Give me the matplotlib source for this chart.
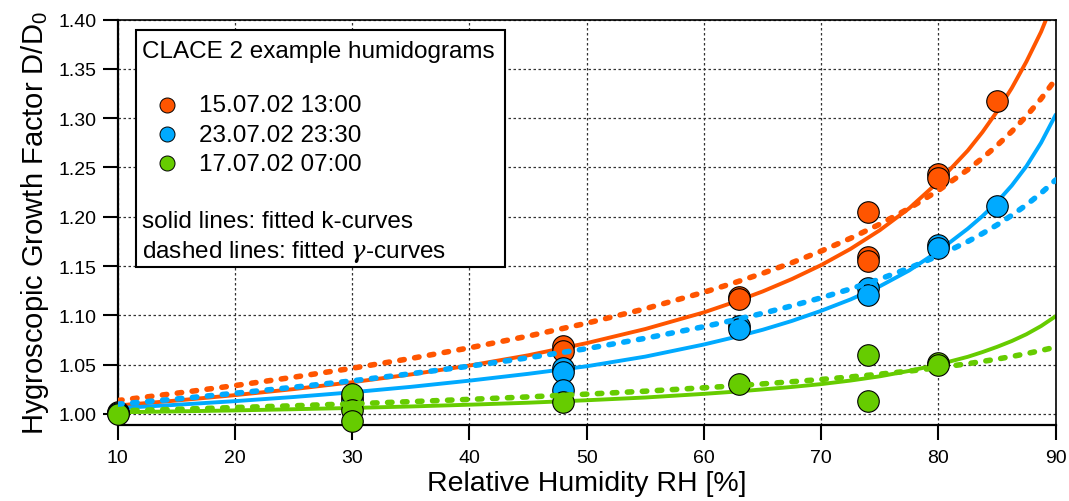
import matplotlib
matplotlib.use("Agg")
import matplotlib.pyplot as plt
from matplotlib.patches import Rectangle

plt.rcParams["font.family"] = ["Liberation Sans", "DejaVu Sans"]
plt.rcParams["mathtext.fontset"] = "custom"
plt.rcParams["mathtext.rm"] = "Liberation Sans"
plt.rcParams["mathtext.it"] = "DejaVu Serif:italic"

# measured humidograms (RH %, growth factor)
orange_rh = [10, 30, 48, 48, 63, 63, 74, 74, 74, 80, 80, 85]
orange_gf = [1.002, 1.016, 1.069, 1.064, 1.119, 1.117, 1.205, 1.159, 1.155, 1.243, 1.239, 1.317]
blue_rh = [10, 30, 48, 48, 48, 63, 63, 74, 74, 80, 80, 85]
blue_gf = [1.001, 1.012, 1.047, 1.042, 1.024, 1.089, 1.086, 1.128, 1.121, 1.171, 1.168, 1.211]
green_rh = [10, 30, 30, 30, 48, 63, 74, 74, 80, 80]
green_gf = [1.000, 1.020, 1.004, 0.993, 1.012, 1.030, 1.060, 1.0135, 1.052, 1.0495]

# fitted curves
fit_rh = [10, 15, 20, 25, 30, 35, 40, 45, 50, 55, 60, 62.5, 65, 67.5, 70, 72.5,
          75, 77.5, 80, 82.5, 83.75, 85, 86.25, 87.5, 88.75, 90]
orange_k = [1.0085, 1.0135, 1.0190, 1.0251, 1.0321, 1.0400, 1.0490, 1.0594, 1.0718,
            1.0861, 1.1030, 1.1131, 1.1242, 1.1368, 1.1510, 1.1674, 1.1864, 1.2086,
            1.2356, 1.2672, 1.2859, 1.3070, 1.3306, 1.3575, 1.3877, 1.4244]
blue_k = [1.0058, 1.0092, 1.0129, 1.0171, 1.0219, 1.0274, 1.0337, 1.0406, 1.0483,
          1.0581, 1.0704, 1.0775, 1.0853, 1.0943, 1.1046, 1.1161, 1.1295, 1.1455,
          1.1652, 1.1879, 1.2007, 1.2150, 1.2317, 1.2513, 1.2751, 1.3036]
green_k = [1.0016, 1.0025, 1.0035, 1.0047, 1.0060, 1.0075, 1.0093, 1.0113, 1.0138,
           1.0166, 1.0203, 1.0224, 1.0248, 1.0273, 1.0302, 1.0338, 1.0381, 1.0436,
           1.0501, 1.0579, 1.0627, 1.0680, 1.0739, 1.0808, 1.0891, 1.0991]
orange_g = [1.0135, 1.0209, 1.0287, 1.0372, 1.0463, 1.0562, 1.0670, 1.0789, 1.0920,
            1.1067, 1.1234, 1.1327, 1.1426, 1.1534, 1.1652, 1.1782, 1.1925, 1.2086,
            1.2268, 1.2478, 1.2596, 1.2724, 1.2866, 1.3022, 1.3198, 1.3397]
blue_g = [1.0098, 1.0151, 1.0209, 1.0270, 1.0335, 1.0407, 1.0484, 1.0569, 1.0662,
          1.0767, 1.0885, 1.0950, 1.1020, 1.1096, 1.1178, 1.1268, 1.1368, 1.1479,
          1.1605, 1.1749, 1.1830, 1.1918, 1.2015, 1.2121, 1.2240, 1.2374]
green_g = [1.0030, 1.0046, 1.0064, 1.0082, 1.0102, 1.0124, 1.0147, 1.0172, 1.0200,
           1.0230, 1.0265, 1.0283, 1.0304, 1.0326, 1.0349, 1.0375, 1.0403, 1.0434,
           1.0469, 1.0509, 1.0532, 1.0556, 1.0582, 1.0611, 1.0643, 1.0678]

labels = ["15.07.02 13:00", "23.07.02 23:30", "17.07.02 07:00"]
colors = ["#ff5500", "#00aaff", "#66cc00"]

fig = plt.figure(figsize=(10.69, 5.02), dpi=100)
ax = fig.add_axes([0.1101, 0.152, 0.8775, 0.8068])

series = [
    (orange_rh, orange_gf, orange_k, orange_g),
    (blue_rh, blue_gf, blue_k, blue_g),
    (green_rh, green_gf, green_k, green_g),
]
for (rh, gf, kfit, gfit), c in zip(series, colors):
    ax.plot(fit_rh, kfit, color=c, lw=2.8, zorder=2, solid_capstyle="round",
            solid_joinstyle="round")
    ax.plot(fit_rh, gfit, color=c, lw=4.0, zorder=4, linestyle=(0, (0.8, 1.9)),
            dash_capstyle="round")
    ax.plot(rh, gf, "o", ms=15.5, mfc=c, mec="black", mew=0.8, zorder=3, clip_on=False)

ax.set_xlim(10, 90)
ax.set_ylim(0.989, 1.40)
ax.set_xticks(range(10, 91, 10))
ax.set_yticks([1.00 + 0.05 * i for i in range(9)])
ax.set_yticklabels([f"{1.00 + 0.05 * i:.2f}" for i in range(9)])
ax.grid(True, color="#333333", lw=0.9, linestyle=(0, (2, 2)))
ax.tick_params(axis="both", direction="out", length=10.5, width=1.5, labelsize=14)
ax.tick_params(axis="x", pad=7)
ax.tick_params(axis="y", pad=5)
for side in ["left", "bottom"]:
    ax.spines[side].set_linewidth(1.6)
for side in ["top", "right"]:
    ax.spines[side].set_linewidth(1.2)

ax.set_xlabel("Relative Humidity RH [%]", fontsize=20.5, labelpad=3)
ax.set_ylabel("Hygroscopic Growth Factor D/D$_0$", fontsize=21, labelpad=5)

# legend box
tr = ax.transAxes
ax.add_patch(Rectangle((0.0192, 0.3886), 0.3937, 0.586, transform=tr, fill=True,
                       facecolor="white", edgecolor="black", lw=1.5, zorder=6))
ax.text(0.0256, 0.9072, "CLACE 2 example humidograms", transform=tr, fontsize=17.5,
        va="baseline", zorder=7)
for yk, yb, lab, c in zip([0.7894, 0.7178, 0.6462], [0.7733, 0.7012, 0.6296], labels, colors):
    ax.plot([0.0529], [yk], "o", ms=10.8, mfc=c, mec="black", mew=0.7, transform=tr, zorder=7)
    ax.text(0.0867, yb, lab, transform=tr, fontsize=17.5, va="baseline", zorder=7)
ax.text(0.0256, 0.4874, "solid lines: fitted k-curves", transform=tr, fontsize=17.5,
        va="baseline", zorder=7)
ax.text(0.0256, 0.4133, r"dashed lines: fitted $\gamma$-curves", transform=tr, fontsize=17.5,
        va="baseline", zorder=7)

fig.savefig("out.png", dpi=100)
